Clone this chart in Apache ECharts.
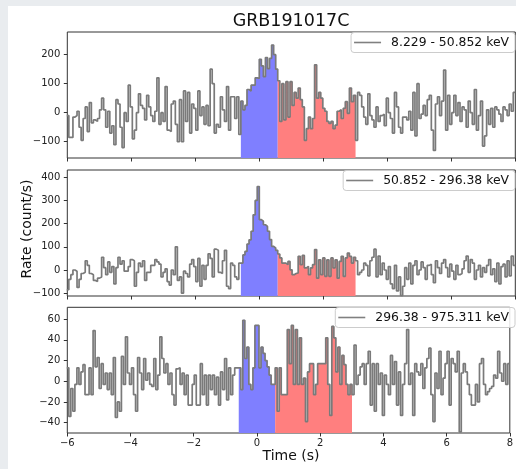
<!DOCTYPE html>
<html><head><meta charset="utf-8">
<script src="https://cdn.jsdelivr.net/npm/echarts@6/dist/echarts.min.js"></script>
<style>
html,body{margin:0;padding:0;background:#e9ecef;width:516px;height:469px;overflow:hidden}
#chart{position:absolute;left:8px;top:6px;width:508px;height:463px;background:#fff}
</style></head><body><div id="chart"></div>
<script>
// ---- data ----
const binWidth = 0.064;          // s
const firstEdge = -6.016;        // left edge of first bin (s)
const timeMin = -6, timeMax = 8;
const titleText = 'GRB191017C';
const bandNames = ['8.229 - 50.852 keV', '50.852 - 296.38 keV', '296.38 - 975.311 keV'];

// panel 1 : 8.229 - 50.852 keV (count/s)
const p1Pre = [-10,-85,-85,-15,-10,5,-50,-95,-20,20,-65,35,-35,-25,-30,-20,10,50,10,-50,5,-70,-45,-110,45,30,-50,-120,0,-30,95,20,-90,-60,0,65,25,15,-25,60,20,-10,-30,5,120,-40,0,-30,90,-60,-65,30,40,-40,-100,45,-100,75,-30,70,-70,30,15,-60,75,-10,20,-40,25,-45,150,100,-70,-40,-50,55,10,-30,90,-60,55,55,-20,55,-75];
const p1Blue = [40,10,25,80,75,95,95,120,118,184,161,124,190,152,187,233,200,150];
const p1Red = [110,-30,100,-25,107,-15,107,25,70,50,85,45,20,-95,-55,-15,-55,-20,165,50,70,50,15,5,-30,-37,-30,-55,-43,5,10,-20,15,38,-2,85,38,60];
const p1Post = [-95,70,60,20,-15,-40,65,-10,-25,-50,20,-30,-10,-5,-45,50,0,-20,-70,70,20,-50,-70,-15,-15,-25,5,-60,70,-80,100,-20,-5,25,-10,45,60,-60,-130,30,55,-10,40,147,-60,60,-40,0,60,-10,35,-30,20,10,-50,40,0,-40,80,-60,-10,40,-115,-80,10,-40,15,-50,20,10,-5,-30,20,10,-10,30,5,70];

// panel 2 : 50.852 - 296.38 keV
const p2Pre = [-85,-40,-20,0,-5,-75,-40,-15,-10,40,20,-15,-20,-45,-50,-35,-30,55,10,-20,35,-10,15,-60,10,55,25,40,-5,-5,15,45,40,-70,-10,30,15,40,-45,-10,-10,20,20,45,35,25,-30,-10,5,-50,-65,0,-20,100,-45,-30,-100,-5,-15,-30,25,45,15,-50,50,-70,20,-40,20,70,50,-30,90,85,-10,-15,40,85,-70,-80,30,20,-30,-40,30];
const p2Blue = [30,65,80,112,130,167,238,300,360,217,210,195,188,167,131,102,95,85];
const p2Red = [69,52,30,30,23,37,1,-20,-15,-13,59,23,63,9,16,-20,9,23,88,-35,44,-20,52,-27,44,-27,52,9,44,-35,37,59,-27,52,73,59,30,55];
const p2Post = [40,-20,-10,0,30,20,-25,40,55,90,-30,60,-20,30,0,-40,15,-60,-80,20,-90,-30,-110,-70,10,-40,30,-60,20,40,-20,0,35,10,-40,20,25,-20,-55,40,10,-15,30,45,10,-30,25,-5,-40,20,-20,-15,5,40,60,-10,45,30,-40,0,20,-30,10,-10,20,45,-20,5,-50,30,-60,15,25,-30,40,-25,60,20];

// panel 3 : 296.38 - 975.311 keV
const p3Pre = [13,-34,-7,-29,-3,13,-3,9,16,-13,-13,13,-13,49,14,23,-7,17,-3,8,-8,8,-13,23,-35,-20,-29,24,-3,43,8,-3,13,-13,-29,23,8,-8,22,1,8,-3,-5,22,-8,6,43,22,8,17,-3,8,-13,-23,12,13,-3,8,-13,6,-23,-23,-3,6,-23,-23,17,-13,6,-23,6,-8,6,-13,4,-23,9,-8,22,-18,13,-13,6,13,13];
const p3Blue = [13,-8,59,22,33,-3,-8,13,54,54,13,33,27,20,14,6,-3,-3];
const p3Red = [13,-29,13,-13,-13,-13,50,17,54,-3,50,-3,42,-3,3,-39,9,17,17,-13,-3,17,17,17,17,42,-3,-33,53,42,9,33,-3,25,16,-3,-13,-3];
const p3Post = [-13,35,-3,6,14,17,-3,17,29,-23,17,-29,17,-3,8,-33,6,-3,-13,25,-3,19,-23,9,-33,-3,17,50,-3,8,-33,17,9,6,17,-7,13,22,32,-13,-39,8,-7,29,-13,3,17,29,-23,22,17,9,29,-49,8,17,9,-3,-13,-23,-23,-3,-20,17,22,-3,-13,-10,-7,-5,6,3,29,8,0,17,-3,17];

const yRanges = [[-156, 278], [-112, 431], [-50, 71.5]];
const yTicks = [[-100, 0, 100, 200], [-100, 0, 100, 200, 300, 400], [-40, -20, 0, 20, 40, 60]];

// ---- build ----
const panels = [
  [p1Pre, p1Blue, p1Red, p1Post],
  [p2Pre, p2Blue, p2Red, p2Post],
  [p3Pre, p3Blue, p3Red, p3Post]
];
const FONT = 'DejaVu Sans';
const minus = v => String(v).replace('-', '\u2212');
const edge = i => +(firstEdge + i * binWidth).toFixed(4);
function stepData(vals, offset) {
  const d = vals.map((v, i) => [edge(offset + i), v]);
  d.push([edge(offset + vals.length), vals[vals.length - 1]]);
  return d;
}

const grids = [
  {left: 59.3, top: 26, width: 448, height: 126},
  {left: 59.3, top: 164, width: 448, height: 126},
  {left: 59.3, top: 301.3, width: 448, height: 125.7}
].map(g => Object.assign(g, {show: true, borderColor: '#333', borderWidth: 1, backgroundColor: 'transparent', containLabel: false}));

const xAxes = [], yAxes = [], series = [], legends = [];
const legendTops = [26.5, 164.5, 301.5];
panels.forEach((p, k) => {
  const [pre, blue, red, post] = p;
  const all = pre.concat(blue, red, post);
  xAxes.push({
    type: 'value', gridIndex: k, min: timeMin, max: timeMax, interval: 2, position: 'bottom',
    axisLine: {show: false, onZero: false},
    axisTick: {show: true, inside: false, length: 3.5, lineStyle: {color: '#333', width: 1}},
    axisLabel: {show: k === 2, margin: 5, fontFamily: FONT, fontSize: 10, color: '#222', formatter: minus},
    splitLine: {show: false}
  });
  yAxes.push({
    type: 'value', gridIndex: k, min: yRanges[k][0], max: yRanges[k][1], position: 'left',
    axisLine: {show: false, onZero: false},
    axisTick: {show: true, inside: false, length: 3.5, customValues: yTicks[k], lineStyle: {color: '#333', width: 1}},
    axisLabel: {show: true, margin: 7, customValues: yTicks[k], fontFamily: FONT, fontSize: 10, color: '#222', formatter: minus},
    splitLine: {show: false}
  });
  const fill = (vals, off, col, nm) => ({
    name: nm, type: 'line', xAxisIndex: k, yAxisIndex: k, step: 'end',
    data: stepData(vals, off), showSymbol: false, symbol: 'none',
    lineStyle: {color: col, width: 0.5},
    areaStyle: {color: col, opacity: 1, origin: 'start'},
    emphasis: {disabled: true},
    z: 1
  });
  series.push(fill(blue, pre.length, '#7f7fff', 'blue' + k));
  series.push(fill(red, pre.length + blue.length, '#ff7f7f', 'red' + k));
  series.push({
    name: bandNames[k], type: 'line', xAxisIndex: k, yAxisIndex: k, step: 'end',
    data: stepData(all, 0), showSymbol: false, symbol: 'none',
    color: '#808080',
    lineStyle: {color: '#7a7a7a', width: 1.7},
    emphasis: {disabled: true},
    z: 3
  });
  legends.push({
    data: [bandNames[k]], top: legendTops[k], right: 1,
    icon: 'rect', itemWidth: 27, itemHeight: 1.6,
    padding: [3, 6, 3, 3],
    backgroundColor: 'rgba(255,255,255,0.85)', borderColor: '#cccccc', borderWidth: 1, borderRadius: 3,
    selectedMode: false,
    itemStyle: {color: '#808080'},
    textStyle: {fontFamily: FONT, fontSize: 12.4, color: '#111', lineHeight: 14, padding: [0, 0, 0, 5]}
  });
});

const chart = echarts.init(document.getElementById('chart'), null, {renderer: 'canvas'});
chart.setOption({
  animation: false,
  backgroundColor: '#fff',
  tooltip: {show: false},
  grid: grids,
  xAxis: xAxes,
  yAxis: yAxes,
  legend: legends,
  series: series,
  graphic: [
    {type: 'text', x: 283, y: 15, style: {text: titleText, font: '17.5px "DejaVu Sans"', fill: '#111', textAlign: 'center', textVerticalAlign: 'middle'}},
    {type: 'text', x: 283, y: 450, style: {text: 'Time (s)', font: '14px "DejaVu Sans"', fill: '#111', textAlign: 'center', textVerticalAlign: 'middle'}},
    {type: 'text', x: 19, y: 223, rotation: Math.PI / 2, style: {text: 'Rate (count/s)', font: '14px "DejaVu Sans"', fill: '#111', textAlign: 'center', textVerticalAlign: 'middle'}}
  ]
});
</script></body></html>
